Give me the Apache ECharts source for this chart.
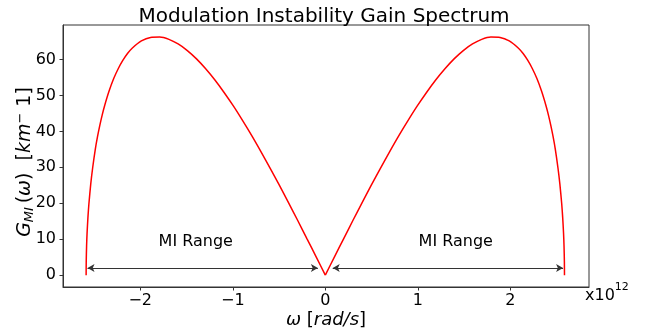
<!DOCTYPE html>
<html>
<head>
<meta charset="utf-8">
<script src="https://cdn.jsdelivr.net/npm/echarts@6/dist/echarts.min.js"></script>
<style>html,body{margin:0;padding:0;background:#fff}#c{width:648px;height:334px}</style>
</head>
<body>
<div id="c"></div>
<script>
// omega in units of 1e12 rad/s, gain in km^-1
const omega = [-2.585,-2.584,-2.580,-2.575,-2.565,-2.555,-2.535,-2.515,-2.486,-2.461,-2.436,-2.411,-2.386,-2.336,-2.287,-2.237,-2.187,-2.138,-2.088,-1.988,-1.889,-1.790,-1.690,-1.591,-1.491,-1.392,-1.293,-1.193,-1.094,-0.994,-0.895,-0.795,-0.696,-0.597,-0.497,-0.398,-0.298,-0.199,-0.099,0,
  0.099,0.199,0.298,0.398,0.497,0.597,0.696,0.795,0.895,0.994,1.094,1.193,1.293,1.392,1.491,1.591,1.690,1.790,1.889,1.988,2.088,2.138,2.187,2.237,2.287,2.336,2.386,2.411,2.436,2.461,2.486,2.515,2.535,2.555,2.565,2.575,2.580,2.584,2.585];
const gain = [0,3.68,8.20,11.57,16.29,19.85,25.38,29.74,35.02,38.67,41.83,44.61,47.08,51.28,54.70,57.50,59.80,61.66,63.15,65.18,66.15,66.24,65.60,64.32,62.49,60.17,57.42,54.29,50.83,47.08,43.06,38.82,34.38,29.77,25.02,20.16,15.20,10.17,5.10,0,
  5.10,10.17,15.20,20.16,25.02,29.77,34.38,38.82,43.06,47.08,50.83,54.29,57.42,60.17,62.49,64.32,65.60,66.24,66.15,65.18,63.15,61.66,59.80,57.50,54.70,51.28,47.08,44.61,41.83,38.67,35.02,29.74,25.38,19.85,16.29,11.57,8.20,3.68,0];
const xTicks = [-2,-1,0,1,2];
const yTicks = [0,10,20,30,40,50,60];
const rangeLabel = 'MI Range';
const labelX = [-1.40, 1.41];
const labelY = 9.4;
const arrowLeft = [-2.57, -0.08];
const arrowRight = [0.08, 2.57];
const arrowY = 2;

const F = 'DejaVu Sans';
const fmt = v => v < 0 ? '\u2212' + Math.abs(v) : String(v);
const chart = echarts.init(document.getElementById('c'), null, {renderer:'canvas'});
const arrowLine = (a) => [{coord:[a[0], arrowY]}, {coord:[a[1], arrowY]}];
const pts = omega.map((w,i)=>[w, gain[i]]);
const leftPts = pts.filter(p => p[0] <= 0);
const rightPts = pts.filter(p => p[0] >= 0);
const lineBase = {type:'line', showSymbol:false, symbol:'none', smooth:0.25, silent:true,
  lineStyle:{color:'#ff0000', width:1.5}, itemStyle:{color:'#ff0000'}};
chart.setOption({
  animation:false,
  backgroundColor:'#fff',
  title:{text:'Modulation Instability Gain Spectrum', left:'center', top:2,
    textStyle:{fontFamily:F, fontSize:20, fontWeight:'normal', color:'#000'}},
  grid:{left:63, right:59, top:25, bottom:47, show:true, borderColor:'#333', borderWidth:1,
    containLabel:false, outerBoundsMode:'none'},
  xAxis:{type:'value', min:-2.835, max:2.85,
    axisLine:{show:true, onZero:false, lineStyle:{color:'#333', width:1}},
    axisTick:{show:true, inside:false, length:3.5, customValues:xTicks, lineStyle:{color:'#333'}},
    axisLabel:{customValues:xTicks, formatter:fmt, fontFamily:F, fontSize:16, color:'#000', margin:6},
    splitLine:{show:false},
    name:'{i|ω} [{i|rad/s}]', nameLocation:'middle', nameGap:24, nameMoveOverlap:false,
    nameTextStyle:{fontFamily:F, fontSize:18, color:'#000',
      rich:{i:{fontFamily:F, fontSize:18, fontStyle:'italic', color:'#000'}}}
  },
  yAxis:{type:'value', min:-3.3, max:69.6,
    axisLine:{show:true, onZero:false, lineStyle:{color:'#333', width:1}},
    axisTick:{show:true, inside:false, length:3.5, customValues:yTicks, lineStyle:{color:'#333'}},
    axisLabel:{customValues:yTicks, formatter:fmt, fontFamily:F, fontSize:16, color:'#000', margin:7},
    splitLine:{show:false}
  },
  graphic:[
    {type:'text', left:585, top:282,
      style:{text:'{a|x10}{b|12}', rich:{
        a:{fontFamily:F, fontSize:16, fill:'#000', lineHeight:22, verticalAlign:'bottom'},
        b:{fontFamily:F, fontSize:11, fill:'#000', lineHeight:22, verticalAlign:'top'}}}},
    {type:'text', x:25, y:162, rotation:Math.PI/2,
      style:{text:'{i|G}{sub|MI}{n|\u2009(}{i|ω}{n|)  [}{i|km}{sup|\u2212}{n| 1]}', align:'center', verticalAlign:'middle',
        rich:{
          n:{fontFamily:F, fontSize:19, fill:'#000', lineHeight:22},
          i:{fontFamily:F, fontSize:19, fontStyle:'italic', fill:'#000', lineHeight:22},
          sub:{fontFamily:F, fontSize:13, fontStyle:'italic', fill:'#000', lineHeight:22, verticalAlign:'bottom'},
          sup:{fontFamily:F, fontSize:13, fill:'#000', lineHeight:22, verticalAlign:'top'}
        }}}
  ],
  series:[
    Object.assign({}, lineBase, {data:leftPts,
      markLine:{silent:true, symbol:['arrow','arrow'], symbolSize:[6,7],
        lineStyle:{color:'#333', width:1, type:'solid'}, label:{show:false},
        data:[arrowLine(arrowLeft), arrowLine(arrowRight)]},
      markPoint:{silent:true, symbol:'circle', symbolSize:0,
        label:{show:true, position:'inside', formatter:rangeLabel, fontFamily:F, fontSize:16, color:'#000'},
        data:labelX.map(x=>({coord:[x, labelY], value:rangeLabel}))}}),
    Object.assign({}, lineBase, {data:rightPts})
  ]
});
</script>
</body>
</html>
